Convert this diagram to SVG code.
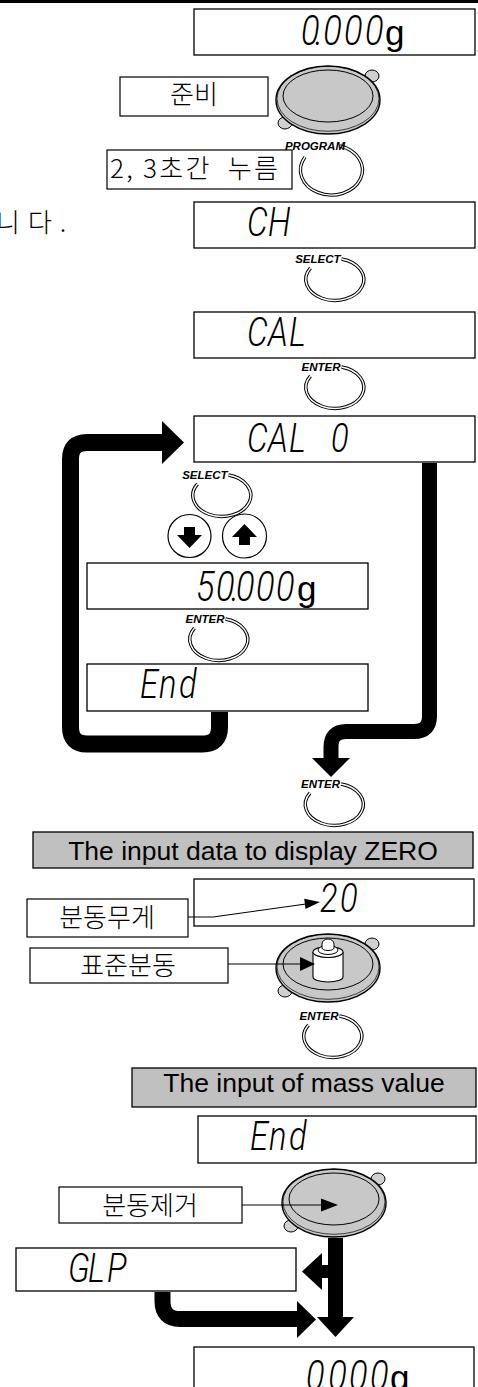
<svg xmlns="http://www.w3.org/2000/svg" xmlns:xlink="http://www.w3.org/1999/xlink" width="478" height="1387" viewBox="0 0 478 1387">
  <style>
    .disp { fill: #fff; stroke: #000; stroke-width: 1.3; }
    .lbl { fill: #fff; stroke: #000; stroke-width: 1.2; }
    .gbox { fill: #c0c0c0; stroke: #000; stroke-width: 1.3; }
    .seg { font-family: Roboto, "DejaVu Sans", sans-serif; font-weight: 300; font-style: italic; font-size: 40px; fill: #000; }
    .dig { font-size: 42px; }
    .unit { font-family: "Liberation Sans", Arial, sans-serif; font-size: 35px; fill: #000; }
    .kr { font-family: "Noto Sans CJK KR", sans-serif; font-size: 26px; font-weight: 300; fill: #000; }
    .en { font-family: "Liberation Sans", Arial, sans-serif; font-size: 26.5px; fill: #000; text-anchor: middle; }
    .key { font-family: "Liberation Sans", Arial, sans-serif; font-size: 11.5px; font-weight: bold; font-style: italic; fill: #000; text-anchor: end; }
    .ringO { fill: none; stroke: #000; stroke-width: 3.4; }
    .ringI { fill: none; stroke: #fff; stroke-width: 1.4; }
    .thick { fill: none; stroke: #000; stroke-linejoin: round; }
    .thin { fill: none; stroke: #000; stroke-width: 1.2; }
    .head { fill: #000; stroke: none; }
  </style>
  <defs>
    <!-- open double-line ring of a push key, centred on 0,0 -->
    <g id="ring">
      <path class="ringO" d="M 8 -21 A 29 21 0 1 1 -23 -12"/>
      <path class="ringI" d="M 8 -21 A 29 21 0 1 1 -23 -12"/>
    </g>
    <!-- weighing pan, centred on 0,0 -->
    <g id="pan">
      <ellipse cx="44" cy="-24" rx="7" ry="6" fill="#d0d0d0" stroke="#000" stroke-width="1"/>
      <ellipse cx="-43" cy="23" rx="7" ry="6" fill="#d0d0d0" stroke="#000" stroke-width="1"/>
      <ellipse rx="52" ry="34" fill="#c8c8c8" stroke="#000" stroke-width="1.4"/>
      <ellipse cy="-1.2" rx="51" ry="32.5" fill="none" stroke="#000" stroke-width="0.7"/>
      <ellipse cx="0" cy="-4" rx="45" ry="26" fill="none" stroke="#000" stroke-width="1"/>
    </g>
  </defs>

  <!-- rule at the top edge -->
  <rect x="0" y="0" width="478" height="3" fill="#000"/>

  <!-- tail of the preceding sentence -->
  <text class="kr" x="-4" y="232" font-size="28" letter-spacing="8">니다.</text>

  <g id="display-zero-top">
    <rect class="disp" x="194" y="9" width="281" height="46"/>
    <text class="seg dig" transform="translate(301 0) scale(0.82 1)" x="0 17 27 52.4 78" y="45">0.000</text>
    <text class="unit" x="385" y="45">g</text>
  </g>

  <g id="label-ready">
    <rect class="lbl" x="120" y="77" width="148" height="39"/>
    <text class="kr" x="194" y="104" text-anchor="middle">준비</text>
  </g>

  <g id="pan-empty">
    <use xlink:href="#pan" x="328" y="100"/>
  </g>

  <g id="key-program">
    <path class="ringO" d="M 340 146 A 31 25 0 1 1 305 157"/>
    <path class="ringI" d="M 340 146 A 31 25 0 1 1 305 157"/>
    <text class="key" x="345" y="150">PROGRAM</text>
  </g>

  <g id="label-hold">
    <rect class="lbl" x="107" y="150" width="185" height="39"/>
    <text class="kr" x="110" y="178" letter-spacing="2.3" xml:space="preserve">2, 3초간  누름</text>
  </g>

  <g id="display-ch">
    <rect class="disp" x="194" y="202" width="281" height="46"/>
    <text class="seg" transform="translate(247 0) scale(0.82 1)" x="0 25.6" y="236">CH</text>
  </g>

  <g id="key-select-1">
    <use xlink:href="#ring" x="333.5" y="280"/>
    <text class="key" x="340.5" y="263">SELECT</text>
  </g>

  <g id="display-cal">
    <rect class="disp" x="194" y="312" width="281" height="46"/>
    <text class="seg" transform="translate(247 0) scale(0.82 1)" x="0 25.6 51.2" y="346">CAL</text>
  </g>

  <g id="key-enter-1">
    <use xlink:href="#ring" x="333.5" y="388"/>
    <text class="key" x="340.5" y="371">ENTER</text>
  </g>

  <g id="display-cal0">
    <rect class="disp" x="194" y="416" width="281" height="46"/>
    <text class="seg" transform="translate(247 0) scale(0.82 1)" x="0 25.6 51.2 76.8 102.4" y="452">CAL 0</text>
  </g>

  <g id="key-select-2">
    <use xlink:href="#ring" x="220.5" y="496"/>
    <text class="key" x="227.5" y="479">SELECT</text>
  </g>

  <g id="key-down">
    <circle cx="189.5" cy="536" r="21.5" fill="#fff" stroke="#000" stroke-width="1.2"/>
    <polygon class="head" points="184,527 195,527 195,535 202,535 189.5,548 177,535 184,535"/>
  </g>

  <g id="key-up">
    <circle cx="244.5" cy="536" r="22" fill="#fff" stroke="#000" stroke-width="1.2"/>
    <polygon class="head" points="244.5,524 257,537 250,537 250,545 239,545 239,537 232,537"/>
  </g>

  <g id="display-mass">
    <rect class="disp" x="87" y="563" width="281" height="46"/>
    <text class="seg dig" transform="translate(196 0) scale(0.82 1)" x="0 24.4 42.7 48.8 73.2 97.6" y="601">50.000</text>
    <text class="unit" x="297" y="601">g</text>
  </g>

  <g id="key-enter-2">
    <use xlink:href="#ring" x="217.5" y="640"/>
    <text class="key" x="224.5" y="623">ENTER</text>
  </g>

  <g id="display-end-1">
    <rect class="disp" x="87" y="664" width="281" height="47"/>
    <text class="seg" font-size="37" transform="translate(140 0) scale(0.82 1)" x="0 23.2 47.6" y="698">End</text>
  </g>

  <g id="key-enter-3">
    <use xlink:href="#ring" x="333" y="805"/>
    <text class="key" x="340" y="788">ENTER</text>
  </g>

  <g id="note-zero">
    <rect class="gbox" x="33" y="832" width="440" height="36"/>
    <text class="en" x="253" y="860">The input data to display ZERO</text>
  </g>

  <g id="display-20">
    <rect class="disp" x="194" y="879" width="280" height="47"/>
    <text class="seg" font-size="37" transform="translate(320 0) scale(0.82 1)" x="0 24.4" y="912">20</text>
  </g>

  <g id="label-weight-value">
    <rect class="lbl" x="27" y="899" width="161" height="38"/>
    <text class="kr" x="107" y="927" text-anchor="middle">분동무게</text>
  </g>

  <g id="label-standard-weight">
    <rect class="lbl" x="30" y="948" width="198" height="35"/>
    <text class="kr" x="128" y="975" text-anchor="middle">표준분동</text>
  </g>

  <g id="pan-with-weight">
    <use xlink:href="#pan" x="328" y="968"/>
    <path d="M 313 952 V 977 A 15 5 0 0 0 343 977 V 952" fill="#fff" stroke="#000" stroke-width="1.1"/>
    <ellipse cx="328" cy="952" rx="15" ry="5.5" fill="#fff" stroke="#000" stroke-width="1.1"/>
    <ellipse cx="328" cy="950" rx="10" ry="4.5" fill="#fff" stroke="#000" stroke-width="1"/>
    <path d="M 322 948 V 944 A 6 5 0 0 1 334 944 V 948 A 6 2.5 0 0 1 322 948 Z" fill="#fff" stroke="#000" stroke-width="1"/>
  </g>

  <g id="key-enter-4">
    <use xlink:href="#ring" x="331.5" y="1037"/>
    <text class="key" x="338.5" y="1020">ENTER</text>
  </g>

  <g id="note-mass">
    <rect class="gbox" x="132" y="1068" width="344" height="39"/>
    <text class="en" x="304" y="1092">The input of mass value</text>
  </g>

  <g id="display-end-2">
    <rect class="disp" x="198" y="1116" width="278" height="47"/>
    <text class="seg" font-size="37" transform="translate(250 0) scale(0.82 1)" x="0 23.2 47.6" y="1150">End</text>
  </g>

  <g id="label-remove-weight">
    <rect class="lbl" x="59" y="1187" width="183" height="36"/>
    <text class="kr" x="150" y="1215" text-anchor="middle">분동제거</text>
  </g>

  <g id="pan-cleared">
    <use xlink:href="#pan" x="334" y="1203"/>
  </g>

  <g id="display-glp">
    <rect class="disp" x="16" y="1248" width="280" height="43"/>
    <text class="seg" font-size="38" transform="translate(68 0) scale(0.82 1)" x="0 24.4 47.6" y="1282">GLP</text>
  </g>

  <g id="display-zero-bottom">
    <rect class="disp" x="194" y="1347" width="280" height="50"/>
    <text class="seg dig" transform="translate(306 0) scale(0.82 1)" x="0 17 27 52.4 78" y="1390">0.000</text>
    <text class="unit" x="390" y="1390">g</text>
  </g>

  <g id="connectors">
    <!-- loop back from End to CAL 0 -->
    <path class="thick" stroke-width="17" d="M 219.5 712 V 727 Q 219.5 744 202.5 744 H 87 Q 70.5 744 70.5 727 V 459 Q 70.5 442.5 87 442.5 H 164"/>
    <polygon class="head" points="162,421 184,442.5 162,464"/>
    <!-- CAL 0 straight to ENTER -->
    <path class="thick" stroke-width="15" d="M 429.5 463 V 716 Q 429.5 731.5 414 731.5 H 346 Q 331 731.5 331 747 V 760"/>
    <polygon class="head" points="312,758 350,758 331,777"/>
    <!-- weight value pointer -->
    <polyline class="thin" points="188,917 213,917 306,904"/>
    <polygon class="head" points="320,902 305.5,909 304.2,898.8"/>
    <!-- standard weight pointer -->
    <line class="thin" x1="228" y1="964" x2="302" y2="964"/>
    <polygon class="head" points="300,957 300,971 315,964"/>
    <!-- remove weight pointer -->
    <line class="thin" x1="242" y1="1205" x2="323" y2="1205"/>
    <polygon class="head" points="321,1198.5 321,1211.5 338,1205"/>
    <!-- pan to zero display, with branch to GLP -->
    <rect x="328" y="1238" width="15" height="81" fill="#000"/>
    <polygon class="head" points="317,1317 354,1317 335.5,1337"/>
    <rect x="321" y="1265" width="10" height="13" fill="#000"/>
    <polygon class="head" points="322,1253 322,1290 302,1271.5"/>
    <!-- GLP to zero display -->
    <path class="thick" stroke-width="16" d="M 162.5 1292 V 1301 Q 162.5 1319 180 1319 H 299"/>
    <polygon class="head" points="297,1301 297,1338 316,1319.5"/>
  </g>
</svg>
